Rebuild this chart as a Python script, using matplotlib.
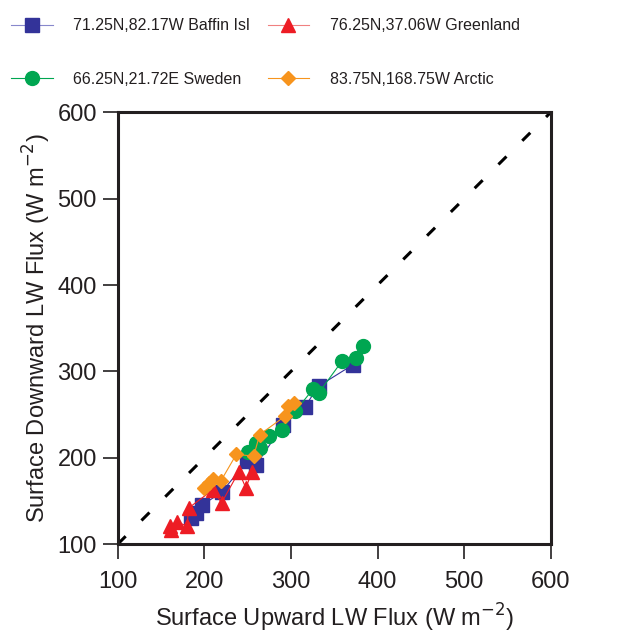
import matplotlib
matplotlib.use("Agg")
import matplotlib.pyplot as plt

plt.rcParams["font.family"] = ["Liberation Sans", "DejaVu Sans"]

# Baffin Island
baffin_up = [185, 190, 197, 220, 249, 260, 291, 316, 332, 372]
baffin_down = [130, 136, 145, 160, 196, 192, 238, 259, 283, 308]

# Greenland
green_up = [162, 160, 168, 180, 182, 210, 220, 240, 248, 255]
green_down = [117, 121, 126, 121, 142, 163, 148, 184, 165, 184]

# Sweden
swe_up = [251, 260, 264, 275, 290, 305, 326, 332, 359, 375, 383]
swe_down = [207, 217, 211, 225, 232, 254, 280, 275, 312, 316, 330]

# Arctic
arc_up = [200, 205, 210, 219, 237, 257, 264, 293, 297, 303]
arc_down = [165, 171, 175, 173, 204, 202, 227, 248, 260, 263]

ticks = [100, 200, 300, 400, 500, 600]
txt = "#231f20"

fig = plt.figure(figsize=(6.36, 6.38), dpi=100)
ax = fig.add_axes([0.185, 0.147, 0.681, 0.677])

# 1:1 line
ax.plot([100, 600], [100, 600], color="black", linestyle=(0, (3.7, 7.3)), linewidth=2.2, zorder=1)

h1, = ax.plot(baffin_up, baffin_down, color="#333399", linewidth=0.8, marker="s",
              markersize=10, markerfacecolor="#333399", markeredgecolor="#333399", zorder=3)
h3, = ax.plot(swe_up, swe_down, color="#00a651", linewidth=0.8, marker="o",
              markersize=10, markerfacecolor="#00a651", markeredgecolor="#00a651", zorder=4)
h2, = ax.plot(green_up, green_down, color="#ed1c24", linewidth=0.8, marker="^",
              markersize=10, markerfacecolor="#ed1c24", markeredgecolor="#ed1c24", zorder=3)
h4, = ax.plot(arc_up, arc_down, color="#f7941d", linewidth=0.8, marker="D",
              markersize=7, markerfacecolor="#f7941d", markeredgecolor="#f7941d", zorder=5)

ax.set_xlim(100, 600)
ax.set_ylim(100, 600)
ax.set_xticks(ticks)
ax.set_yticks(ticks)
ax.tick_params(direction="out", length=11, width=1.2, pad=4, labelsize=17,
               colors=txt)
ax.tick_params(axis="x", pad=8.5)
for s in ax.spines.values():
    s.set_linewidth(2.2)
    s.set_color(txt)

ax.set_xlabel("Surface Upward LW Flux (W m$^{-2}$)", fontsize=17, color=txt, labelpad=6)
ax.set_ylabel("Surface Downward LW Flux (W m$^{-2}$)", fontsize=17, color=txt, labelpad=3)

labels = ["71.25N,82.17W Baffin Isl", "66.25N,21.72E Sweden",
          "76.25N,37.06W Greenland", "83.75N,168.75W Arctic"]
leg = fig.legend([h1, h3, h2, h4], labels, ncol=2, loc="upper left",
                 bbox_to_anchor=(0.0, 0.989), frameon=False, fontsize=11.5,
                 handlelength=2.6, handletextpad=1.3, columnspacing=1.1,
                 labelspacing=2.4, borderaxespad=0.3, labelcolor=txt)
for lh, c in zip(leg.get_lines(), ["#8888cc", "#00a651", "#f08080", "#f7941d"]):
    lh.set_color(c)

fig.savefig("out.png", dpi=100)
